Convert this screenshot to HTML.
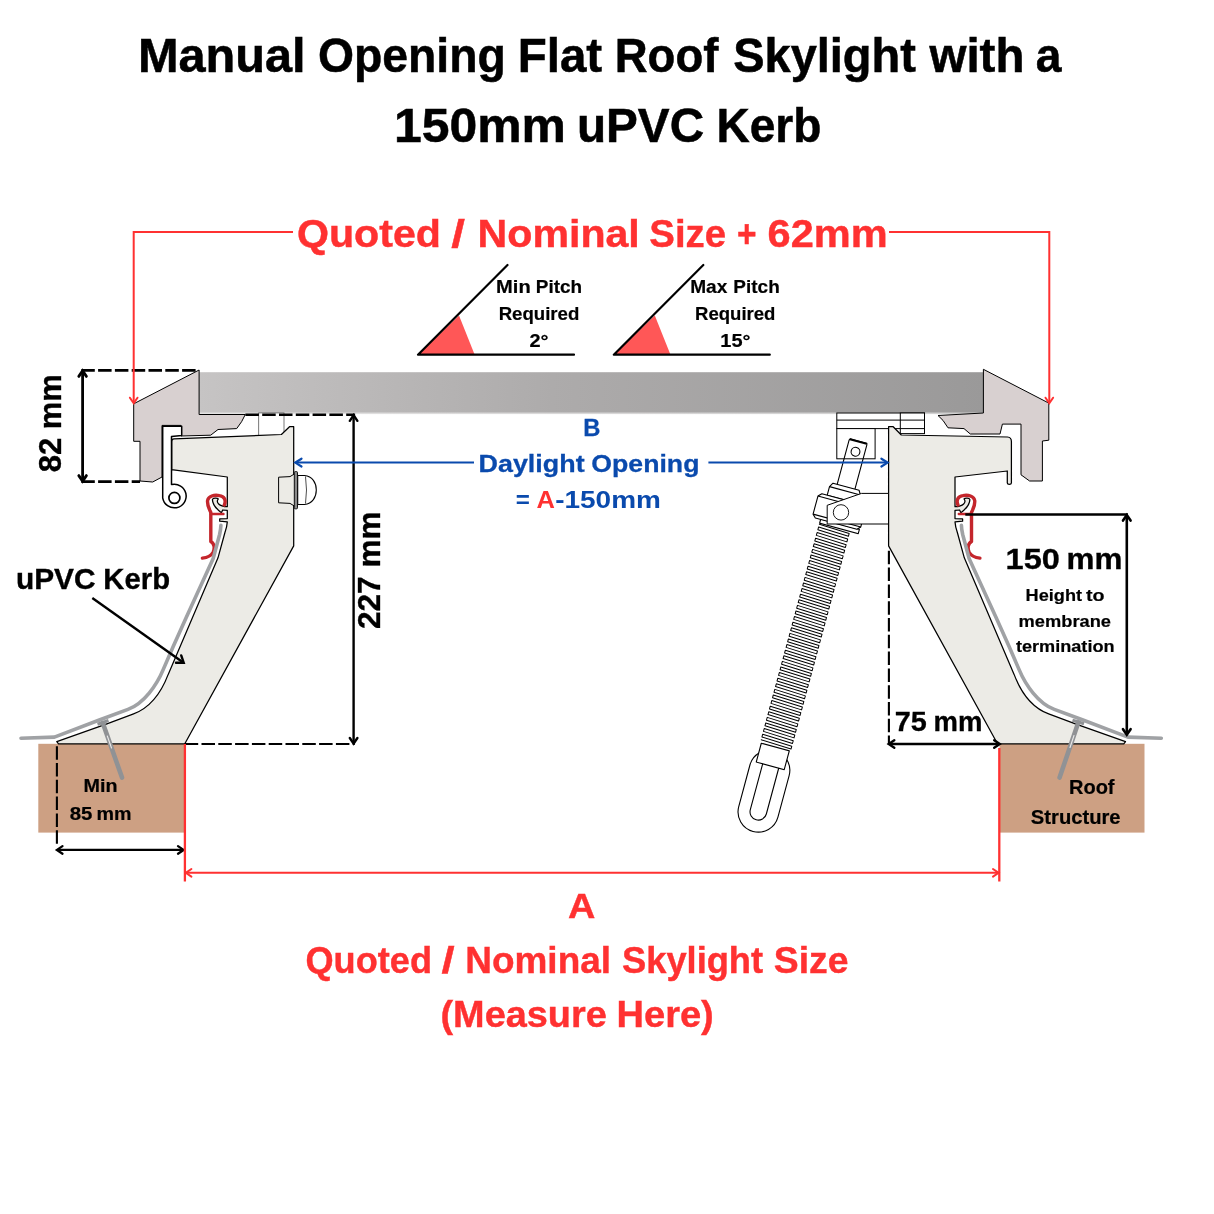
<!DOCTYPE html>
<html lang="en"><head><meta charset="utf-8"><title>Manual Opening Flat Roof Skylight with a 150mm uPVC Kerb</title>
<style>
html,body{margin:0;padding:0;background:#fff;width:1214px;height:1214px;overflow:hidden}
svg{display:block;will-change:transform;transform:translateZ(0)}
text{font-family:"Liberation Sans",Arial,Helvetica,sans-serif}
</style></head><body>
<svg width="1214" height="1214" viewBox="0 0 1214 1214">
<rect width="1214" height="1214" fill="#fff"/>
<defs><linearGradient id="gl" x1="0" x2="1" y1="0" y2="0"><stop offset="0" stop-color="#c6c4c4"/><stop offset="0.45" stop-color="#adabab"/><stop offset="1" stop-color="#9a9999"/></linearGradient><linearGradient id="gs" x1="0" x2="0" y1="0" y2="1"><stop offset="0" stop-color="#000" stop-opacity="0.0"/><stop offset="1" stop-color="#000" stop-opacity="0"/></linearGradient><linearGradient id="fd" x1="0" x2="0" y1="0" y2="1"><stop offset="0" stop-color="#fff"/><stop offset="1" stop-color="#000"/></linearGradient><mask id="fm" maskUnits="userSpaceOnUse" x="199" y="412" width="785" height="3"><rect x="199" y="412.1" width="785" height="2.6" fill="url(#fd)"/></mask></defs>
<rect x="199" y="372.2" width="785" height="40" fill="url(#gl)"/><rect x="199" y="412.1" width="785" height="2.6" fill="url(#gl)" mask="url(#fm)"/>
<rect x="38.3" y="743.8" width="146.5" height="88.8" fill="#cda083"/>
<rect x="999.5" y="743.8" width="145" height="88.8" fill="#cda083"/>
<g fill="#fff" stroke="#000" stroke-width="1"><rect x="836.8" y="413" width="87.7" height="15.6"/><rect x="900.3" y="413" width="24.2" height="20.6"/><path d="M836.8 420.1H924.5M900.3 428.6H924.5"/><rect x="836.8" y="428.6" width="38.3" height="30.2"/></g>
<rect x="258.7" y="412.9" width="25.3" height="23" fill="#fff" stroke="#555" stroke-width="0.8"/>
<path d="M199.1 370 L133.7 403.8 L133.7 441.3 L140 441.3 L140 481 L152.7 482 L162 477 L162 425.4 L181 425.4 L181 436 L210.7 435.2 L218 429.5 L236.7 428.6 L241.6 421.7 L245.3 414.5 L199.1 414.5 Z" fill="#d8d0d0" stroke="#000" stroke-width="1" stroke-linejoin="miter"/>
<path d="M983.4 369.3 L1048.8 403.1 L1048.8 440.2 L1042.4 441 L1042.4 481 L1029.6 481 L1021 474.8 L1021 424.1 L1002.4 424.1 L1000 434 L970.3 434 L964 428.6 L948 427.8 L943 420.4 L938 415.5 L983.4 413 Z" fill="#d8d0d0" stroke="#000" stroke-width="1"/>
<path d="M171.7 441.5 Q171.7 439 174 438.9 L281.4 434.5 L289.5 426.7 L293.7 426.7 L293.7 545.9 L184.8 743.8 L58.5 743.8 L56.8 741.6 L106.9 723.8 L133.6 713.9 C150.5 707.6 161.8 691.2 168.2 674.4 L218 557.8 L224.8 533 C226.2 529 227.1 525.5 227.3 521.9 L219.7 521.2 L219.7 518.9 L227.3 518.6 L227.3 510.4 L222.7 510 L221.4 512.7 C216.5 509 212.6 504.5 212.4 499.6 C213 498 217 497.6 218.3 498.9 C215.6 502.3 219 506.5 227.3 506.7 L227.3 477 L173.5 469.8 L171.7 469.8 Z" fill="#ecebe6" stroke="#000" stroke-width="1.25" stroke-linejoin="round"/>
<path d="M1011.4 441.5 Q1011.4 437.3 1007.5 437 L901.3 435 L893.2 426.7 L888.6 426.7 L888.6 545.9 L 997.50 743.8 L 1123.80 743.8 L 1125.50 741.6 L 1075.40 723.8 L 1048.70 713.9 C 1031.80 707.6 1020.50 691.2 1014.10 674.4 L 964.30 557.8 L 957.50 533 C 956.10 529 955.20 525.5 955.00 521.9 L 962.60 521.2 L 962.60 518.9 L 955.00 518.6 L 955.00 510.4 L 959.60 510 L 960.90 512.7 C 965.80 509 969.70 504.5 969.90 499.6 C 969.30 498 965.30 497.6 964.00 498.9 C 966.70 502.3 963.30 506.5 955.00 506.7 L 955.00 477L1007.3 471 L1007.3 483 Q1007.4 484.4 1009.3 484.4 Q1011.3 484.4 1011.4 483 Z" fill="#ecebe6" stroke="#000" stroke-width="1.25" stroke-linejoin="round"/>
<path d="M162.7 426.3 H181.7 V435.4 L171.5 436.5 V484.6 A11.8 11.8 0 1 1 162.7 497.9 Z" fill="#fff" stroke="#000" stroke-width="1.5" stroke-linejoin="round"/>
<circle cx="174.4" cy="497.9" r="5.5" fill="#fff" stroke="#000" stroke-width="1.7"/>
<path d="M294 474.2 L290 476.6 L278.6 477.2 V502.8 L290 503.4 L294 505.8" fill="#ecebe6" stroke="#000" stroke-width="1" stroke-linejoin="round"/>
<path d="M297.7 475.5 L304.5 475.5 C312.5 476.3 316.3 483 316.3 490 C316.3 497 312.5 503.7 304.5 504.5 L297.7 504.5 Z" fill="#fff" stroke="#000" stroke-width="1.1"/>
<path d="M305.5 476.5 Q307.5 490 305.5 503.5" stroke="#000" stroke-width="0.7" fill="none"/>
<rect x="294.3" y="471.6" width="3.2" height="37.2" rx="1" fill="#8a8a8a" stroke="#111" stroke-width="1"/>
<path d="M224.3 505 C226.5 500 224 496 219.5 495.6 C214 494.6 208.5 496 207.6 500.5 C207 505 209 508.5 210.8 512.5 L210.8 541.5 C214.5 543.5 215 548.5 213 552.5 C211 556 207 557.6 202.4 558.1" fill="none" stroke="#c4262c" stroke-width="3.4" stroke-linecap="round" stroke-linejoin="round"/><path d="M210.8 514 L223.5 514" fill="none" stroke="#c4262c" stroke-width="2.4" stroke-linecap="round"/>
<g transform="translate(1182.3 0) scale(-1 1)"><path d="M224.3 505 C226.5 500 224 496 219.5 495.6 C214 494.6 208.5 496 207.6 500.5 C207 505 209 508.5 210.8 512.5 L210.8 541.5 C214.5 543.5 215 548.5 213 552.5 C211 556 207 557.6 202.4 558.1" fill="none" stroke="#c4262c" stroke-width="3.4" stroke-linecap="round" stroke-linejoin="round"/><path d="M210.8 514 L223.5 514" fill="none" stroke="#c4262c" stroke-width="2.4" stroke-linecap="round"/></g>
<path d="M21 738.3 L54.4 737.1 L100 719.8 L128 709.4 C143.9 703.5 156.8 685.1 163.3 669.4 L173.1 646.7 L186 618 L213.2 558.5 L219.6 534.5 C220.3 531.5 220.8 528.5 220.9 525.3" fill="none" stroke="#a0a2a5" stroke-width="3.6" stroke-linecap="round" stroke-linejoin="round"/>
<path d="M 1161.30 738.3 L 1127.90 737.1 L 1082.30 719.8 L 1054.30 709.4 C 1038.40 703.5 1025.50 685.1 1019.00 669.4 L 1009.20 646.7 L 996.30 618 L 969.10 558.5 L 962.70 534.5 C 962.00 531.5 961.50 528.5 961.40 525.3" fill="none" stroke="#a0a2a5" stroke-width="3.6" stroke-linecap="round" stroke-linejoin="round"/>
<path d="M102.8 723 L122 777.6" stroke="#909295" stroke-width="4.6" stroke-linecap="round"/><path d="M97.5 724.3 L108.5 720.6" stroke="#909295" stroke-width="3.2"/><path d="M107.3 736 L111.5 748" stroke="#e9e9e9" stroke-width="1.1" stroke-linecap="round"/>
<path d="M1078.3 722.4 L1059.6 777.6" stroke="#909295" stroke-width="4.6" stroke-linecap="round"/><path d="M1072.5 720.3 L1084 723.8" stroke="#909295" stroke-width="3.2"/><path d="M1074 735.5 L1070 747.5" stroke="#e9e9e9" stroke-width="1.1" stroke-linecap="round"/>
<g transform="translate(855.5 451.7) rotate(15.1)" fill="#fff" stroke="#000" stroke-width="1.1" stroke-linejoin="round"><path d="M-20.3 330 A20.3 20.3 0 0 1 20.3 330 V373 A20.3 20.3 0 0 1 -20.3 373 Z"/><path d="M-8.3 322 V373 A8.3 8.3 0 0 0 8.3 373 V322 Z"/><rect x="-14.5" y="78" width="29" height="228" fill="#fff" stroke="none"/><path d="M-16 79.40 L15.2 80.60 L15.2 83.50 L-16 82.30 L-16 85.20 L15.2 86.40 L15.2 89.30 L-16 88.10 L-16 91.00 L15.2 92.20 L15.2 95.10 L-16 93.90 L-16 96.80 L15.2 98.00 L15.2 100.90 L-16 99.70 L-16 102.60 L15.2 103.80 L15.2 106.70 L-16 105.50 L-16 108.40 L15.2 109.60 L15.2 112.50 L-16 111.30 L-16 114.20 L15.2 115.40 L15.2 118.30 L-16 117.10 L-16 120.00 L15.2 121.20 L15.2 124.10 L-16 122.90 L-16 125.80 L15.2 127.00 L15.2 129.90 L-16 128.70 L-16 131.60 L15.2 132.80 L15.2 135.70 L-16 134.50 L-16 137.40 L15.2 138.60 L15.2 141.50 L-16 140.30 L-16 143.20 L15.2 144.40 L15.2 147.30 L-16 146.10 L-16 149.00 L15.2 150.20 L15.2 153.10 L-16 151.90 L-16 154.80 L15.2 156.00 L15.2 158.90 L-16 157.70 L-16 160.60 L15.2 161.80 L15.2 164.70 L-16 163.50 L-16 166.40 L15.2 167.60 L15.2 170.50 L-16 169.30 L-16 172.20 L15.2 173.40 L15.2 176.30 L-16 175.10 L-16 178.00 L15.2 179.20 L15.2 182.10 L-16 180.90 L-16 183.80 L15.2 185.00 L15.2 187.90 L-16 186.70 L-16 189.60 L15.2 190.80 L15.2 193.70 L-16 192.50 L-16 195.40 L15.2 196.60 L15.2 199.50 L-16 198.30 L-16 201.20 L15.2 202.40 L15.2 205.30 L-16 204.10 L-16 207.00 L15.2 208.20 L15.2 211.10 L-16 209.90 L-16 212.80 L15.2 214.00 L15.2 216.90 L-16 215.70 L-16 218.60 L15.2 219.80 L15.2 222.70 L-16 221.50 L-16 224.40 L15.2 225.60 L15.2 228.50 L-16 227.30 L-16 230.20 L15.2 231.40 L15.2 234.30 L-16 233.10 L-16 236.00 L15.2 237.20 L15.2 240.10 L-16 238.90 L-16 241.80 L15.2 243.00 L15.2 245.90 L-16 244.70 L-16 247.60 L15.2 248.80 L15.2 251.70 L-16 250.50 L-16 253.40 L15.2 254.60 L15.2 257.50 L-16 256.30 L-16 259.20 L15.2 260.40 L15.2 263.30 L-16 262.10 L-16 265.00 L15.2 266.20 L15.2 269.10 L-16 267.90 L-16 270.80 L15.2 272.00 L15.2 274.90 L-16 273.70 L-16 276.60 L15.2 277.80 L15.2 280.70 L-16 279.50 L-16 282.40 L15.2 283.60 L15.2 286.50 L-16 285.30 L-16 288.20 L15.2 289.40 L15.2 292.30 L-16 291.10 L-16 294.00 L15.2 295.20 L15.2 298.10 L-16 296.90 L-16 299.80 L15.2 301.00 L15.2 303.90 L-16 302.70 " fill="none" stroke-width="1.0" stroke-linejoin="round" stroke-linecap="round"/><rect x="-15" y="306" width="29" height="19.5"/><path d="M-9.2 -9.5 L-8.6 -11 L8.8 -11 L9.2 -9.5 V37 H-9.2 Z" fill="none"/><path d="M-8.6 -10.5 L8.8 -10.5" stroke-width="2" fill="none"/><circle cx="0" cy="0" r="4.4"/><path d="M-13.5 36.3 H13.5 L16 40.5 V49.5 H-16 V40.5 Z"/><path d="M-16 40.5 H16" fill="none"/><rect x="-16" y="74" width="40" height="4.4"/><path d="M-24.7 52.6 L-21.5 49.3 L21.5 49.3 L24.7 52.6 L24.7 71.3 L21.5 74.5 L-21.5 74.5 L-24.7 71.3 Z"/><path d="M-24.7 52.6 H24.7 M-24.7 71.3 H24.7" fill="none"/></g>
<path d="M888.5 493.4 H861.5 L827.2 505.3 V524 H888.5 Z" fill="#fff" stroke="#000" stroke-width="1" stroke-linejoin="round"/>
<circle cx="841" cy="512.4" r="7.7" fill="#fff" stroke="#000" stroke-width="0.9"/>
<path d="M418 354.7 L459 315.5 L474.7 354.7 Z" fill="#ff5757"/><path d="M574 354.7 H418 L507.5 265" fill="none" stroke="#000" stroke-width="2.2" stroke-linecap="round" stroke-linejoin="round"/>
<path d="M613.8 354.7 L654.8 315.5 L670.5 354.7 Z" fill="#ff5757"/><path d="M769.8 354.7 H613.8 L703.3 265" fill="none" stroke="#000" stroke-width="2.2" stroke-linecap="round" stroke-linejoin="round"/>
<path d="M81.3 370.4 H198.5" stroke="#000" fill="none" stroke-width="2.8" stroke-dasharray="13.5 3.3"/>
<path d="M81.3 481.6 H140" stroke="#000" fill="none" stroke-width="2.8" stroke-dasharray="13.5 3.3"/>
<path d="M82.6 372 V480" stroke="#000" fill="none" stroke-width="2.8"/>
<path d="M86.4 376.4 L82.6 370.8 L78.8 376.4" fill="none" stroke="#000" stroke-width="2.8" stroke-linecap="round" stroke-linejoin="miter"/>
<path d="M78.8 475.6 L82.6 481.2 L86.4 475.6" fill="none" stroke="#000" stroke-width="2.8" stroke-linecap="round" stroke-linejoin="miter"/>
<path d="M245.4 414.8 H355.1" stroke="#000" fill="none" stroke-width="2.4" stroke-dasharray="13.5 3.3"/>
<path d="M184.7 744 H354.8" stroke="#000" fill="none" stroke-width="2.2" stroke-dasharray="13.5 3.3"/>
<path d="M353.6 416.5 V742" stroke="#000" fill="none" stroke-width="2.4"/>
<path d="M357.4 420.8 L353.6 415.2 L349.8 420.8" fill="none" stroke="#000" stroke-width="2.4" stroke-linecap="round" stroke-linejoin="miter"/>
<path d="M349.8 738.0 L353.6 743.6 L357.4 738.0" fill="none" stroke="#000" stroke-width="2.4" stroke-linecap="round" stroke-linejoin="miter"/>
<path d="M56.9 746.2 V844" stroke="#000" fill="none" stroke-width="2.1" stroke-dasharray="13.5 3.3"/>
<path d="M58 849.9 H182.5" stroke="#000" fill="none" stroke-width="2.3"/>
<path d="M62.5 846.1 L56.9 849.9 L62.5 853.7" fill="none" stroke="#000" stroke-width="2.3" stroke-linecap="round" stroke-linejoin="miter"/>
<path d="M178.0 853.7 L183.6 849.9 L178.0 846.1" fill="none" stroke="#000" stroke-width="2.3" stroke-linecap="round" stroke-linejoin="miter"/>
<path d="M888.9 550.8 V745" stroke="#000" fill="none" stroke-width="2.1" stroke-dasharray="13.5 3.3"/>
<path d="M890.5 744 H998" stroke="#000" fill="none" stroke-width="2.4"/>
<path d="M894.3 740.2 L888.7 744.0 L894.3 747.8" fill="none" stroke="#000" stroke-width="2.4" stroke-linecap="round" stroke-linejoin="miter"/>
<path d="M994.2 747.8 L999.8 744.0 L994.2 740.2" fill="none" stroke="#000" stroke-width="2.4" stroke-linecap="round" stroke-linejoin="miter"/>
<path d="M965.3 514.5 H1128" stroke="#000" fill="none" stroke-width="2.6"/>
<path d="M1126.8 516.5 V733" stroke="#000" fill="none" stroke-width="2.6"/>
<path d="M1130.6 520.6 L1126.8 515.0 L1123.0 520.6" fill="none" stroke="#000" stroke-width="2.6" stroke-linecap="round" stroke-linejoin="miter"/>
<path d="M1123.0 729.2 L1126.8 734.8 L1130.6 729.2" fill="none" stroke="#000" stroke-width="2.6" stroke-linecap="round" stroke-linejoin="miter"/>
<path d="M92.3 598 L182.5 661.9" stroke="#000" fill="none" stroke-width="2.4"/>
<path d="M176.0 662.7 L183.7 662.7 L181.2 655.4" fill="none" stroke="#000" stroke-width="2.4" stroke-linecap="round" stroke-linejoin="miter"/>
<path d="M293 232 H133.7 V402" fill="none" stroke="#ff3131" stroke-width="2.0"/>
<path d="M129.9 397.7 L133.7 403.3 L137.5 397.7" fill="none" stroke="#ff3131" stroke-width="2.0" stroke-linecap="round" stroke-linejoin="miter"/>
<path d="M889 232 H1049.3 V402" fill="none" stroke="#ff3131" stroke-width="2.0"/>
<path d="M1045.5 397.7 L1049.3 403.3 L1053.1 397.7" fill="none" stroke="#ff3131" stroke-width="2.0" stroke-linecap="round" stroke-linejoin="miter"/>
<path d="M184.9 744 V881.5" stroke="#ff3131" stroke-width="2.3" fill="none"/>
<path d="M999.3 748 V881.5" stroke="#ff3131" stroke-width="2.3" fill="none"/>
<path d="M186.5 872.8 H998" stroke="#ff3131" stroke-width="2.0" fill="none"/>
<path d="M191.4 869.0 L185.8 872.8 L191.4 876.6" fill="none" stroke="#ff3131" stroke-width="2.0" stroke-linecap="round" stroke-linejoin="miter"/>
<path d="M993.0 876.6 L998.6 872.8 L993.0 869.0" fill="none" stroke="#ff3131" stroke-width="2.0" stroke-linecap="round" stroke-linejoin="miter"/>
<path d="M296.5 462.6 H474" stroke="#0a4aad" stroke-width="2" fill="none"/>
<path d="M708.4 462.6 H887" stroke="#0a4aad" stroke-width="2" fill="none"/>
<path d="M301.5 458.7 L295.3 462.6 L301.5 466.5" fill="none" stroke="#0a4aad" stroke-width="2.2" stroke-linecap="round" stroke-linejoin="miter"/>
<path d="M881.4 466.5 L887.6 462.6 L881.4 458.7" fill="none" stroke="#0a4aad" stroke-width="2.2" stroke-linecap="round" stroke-linejoin="miter"/>
<text y="72.0" font-size="48.5" fill="#000" stroke="#000" stroke-width="0.53" font-weight="bold"><tspan x="137.94" textLength="167.67" lengthAdjust="spacingAndGlyphs">Manual</tspan> <tspan x="317.95" textLength="187.88" lengthAdjust="spacingAndGlyphs">Opening</tspan> <tspan x="517.71" textLength="84.5" lengthAdjust="spacingAndGlyphs">Flat</tspan> <tspan x="614.74" textLength="103.62" lengthAdjust="spacingAndGlyphs">Roof</tspan> <tspan x="733.19" textLength="182.7" lengthAdjust="spacingAndGlyphs">Skylight</tspan> <tspan x="929.44" textLength="94.99" lengthAdjust="spacingAndGlyphs">with</tspan> <tspan x="1035.71" textLength="25.68" lengthAdjust="spacingAndGlyphs">a</tspan></text>
<text y="141.5" font-size="48.5" fill="#000" stroke="#000" stroke-width="0.53" font-weight="bold"><tspan x="393.91" textLength="171.93" lengthAdjust="spacingAndGlyphs">150mm</tspan> <tspan x="576.94" textLength="127.15" lengthAdjust="spacingAndGlyphs">uPVC</tspan> <tspan x="716.41" textLength="104.86" lengthAdjust="spacingAndGlyphs">Kerb</tspan></text>
<text y="247.1" font-size="38" fill="#ff3131" stroke="#ff3131" stroke-width="0.42" font-weight="bold"><tspan x="296.95" textLength="144.0" lengthAdjust="spacingAndGlyphs">Quoted</tspan> <tspan x="451.38" textLength="13.72" lengthAdjust="spacingAndGlyphs">/</tspan> <tspan x="477.63" textLength="162.14" lengthAdjust="spacingAndGlyphs">Nominal</tspan> <tspan x="649.35" textLength="76.73" lengthAdjust="spacingAndGlyphs">Size</tspan> <tspan x="736.92" textLength="19.53" lengthAdjust="spacingAndGlyphs">+</tspan> <tspan x="767.64" textLength="120.18" lengthAdjust="spacingAndGlyphs">62mm</tspan></text>
<text y="292.6" font-size="18.6" fill="#000" stroke="#000" stroke-width="0.20" font-weight="bold"><tspan x="496.09" textLength="34.65" lengthAdjust="spacingAndGlyphs">Min</tspan> <tspan x="535.77" textLength="46.26" lengthAdjust="spacingAndGlyphs">Pitch</tspan></text>
<text x="498.69" y="319.9" font-size="18.6" fill="#000" stroke="#000" stroke-width="0.20" font-weight="bold" textLength="80.6" lengthAdjust="spacingAndGlyphs">Required</text>
<text x="529.5" y="347.4" font-size="18.6" fill="#000" stroke="#000" stroke-width="0.20" font-weight="bold" textLength="19.12" lengthAdjust="spacingAndGlyphs">2°</text>
<text y="292.6" font-size="18.6" fill="#000" stroke="#000" stroke-width="0.20" font-weight="bold"><tspan x="690.16" textLength="37.14" lengthAdjust="spacingAndGlyphs">Max</tspan> <tspan x="733.37" textLength="46.37" lengthAdjust="spacingAndGlyphs">Pitch</tspan></text>
<text x="695.1" y="319.9" font-size="18.6" fill="#000" stroke="#000" stroke-width="0.20" font-weight="bold" textLength="80.29" lengthAdjust="spacingAndGlyphs">Required</text>
<text x="720.3" y="347.4" font-size="18.6" fill="#000" stroke="#000" stroke-width="0.20" font-weight="bold" textLength="30.14" lengthAdjust="spacingAndGlyphs">15°</text>
<text transform="translate(60.5 471.3) rotate(-90)" x="-0.93" y="0" font-size="31.6" stroke="#000" stroke-width="0.35" font-weight="bold" textLength="98.04" lengthAdjust="spacingAndGlyphs">82 mm</text>
<text transform="translate(379.8 628) rotate(-90)" x="-1.11" y="0" font-size="31.6" stroke="#000" stroke-width="0.35" font-weight="bold" textLength="117.69" lengthAdjust="spacingAndGlyphs">227 mm</text>
<text y="589.3" font-size="29.8" fill="#000" stroke="#000" stroke-width="0.33" font-weight="bold"><tspan x="15.91" textLength="79.6" lengthAdjust="spacingAndGlyphs">uPVC</tspan> <tspan x="103.3" textLength="66.73" lengthAdjust="spacingAndGlyphs">Kerb</tspan></text>
<text x="583.15" y="436.1" font-size="24.6" fill="#0a4aad" stroke="#0a4aad" stroke-width="0.27" font-weight="bold" textLength="17.17" lengthAdjust="spacingAndGlyphs">B</text>
<text y="471.6" font-size="24.6" fill="#0a4aad" stroke="#0a4aad" stroke-width="0.27" font-weight="bold"><tspan x="478.55" textLength="106.05" lengthAdjust="spacingAndGlyphs">Daylight</tspan> <tspan x="591.33" textLength="108.11" lengthAdjust="spacingAndGlyphs">Opening</tspan></text>
<text y="507.8" font-size="24.6" font-weight="bold" fill="#0a4aad"><tspan x="515.83" textLength="14.11" lengthAdjust="spacingAndGlyphs">=</tspan> <tspan x="536.46" fill="#ff3131" textLength="18.43" lengthAdjust="spacingAndGlyphs">A</tspan><tspan x="555.18" textLength="105.69" lengthAdjust="spacingAndGlyphs">-150mm</tspan></text>
<text y="569.3" font-size="30.2" fill="#000" stroke="#000" stroke-width="0.33" font-weight="bold"><tspan x="1005.55" textLength="54.27" lengthAdjust="spacingAndGlyphs">150</tspan> <tspan x="1066.46" textLength="55.87" lengthAdjust="spacingAndGlyphs">mm</tspan></text>
<text y="600.5" font-size="17.1" fill="#000" stroke="#000" stroke-width="0.19" font-weight="bold"><tspan x="1025.62" textLength="56.48" lengthAdjust="spacingAndGlyphs">Height</tspan> <tspan x="1086.05" textLength="18.56" lengthAdjust="spacingAndGlyphs">to</tspan></text>
<text x="1018.61" y="626.6" font-size="17.1" fill="#000" stroke="#000" stroke-width="0.19" font-weight="bold" textLength="92.37" lengthAdjust="spacingAndGlyphs">membrane</text>
<text x="1015.92" y="652.4" font-size="17.1" fill="#000" stroke="#000" stroke-width="0.19" font-weight="bold" textLength="98.67" lengthAdjust="spacingAndGlyphs">termination</text>
<text y="730.9" font-size="27.6" fill="#000" stroke="#000" stroke-width="0.30" font-weight="bold"><tspan x="894.75" textLength="32.04" lengthAdjust="spacingAndGlyphs">75</tspan> <tspan x="933.61" textLength="48.89" lengthAdjust="spacingAndGlyphs">mm</tspan></text>
<text x="83.52" y="792.4" font-size="18.2" fill="#000" stroke="#000" stroke-width="0.20" font-weight="bold" textLength="34.0" lengthAdjust="spacingAndGlyphs">Min</text>
<text y="819.6" font-size="18.2" fill="#000" stroke="#000" stroke-width="0.20" font-weight="bold"><tspan x="69.79" textLength="22.67" lengthAdjust="spacingAndGlyphs">85</tspan> <tspan x="96.52" textLength="35.03" lengthAdjust="spacingAndGlyphs">mm</tspan></text>
<text x="1069.0" y="794.3" font-size="19.5" fill="#000" stroke="#000" stroke-width="0.21" font-weight="bold" textLength="45.54" lengthAdjust="spacingAndGlyphs">Roof</text>
<text x="1030.89" y="823.8" font-size="19.5" fill="#000" stroke="#000" stroke-width="0.21" font-weight="bold" textLength="89.72" lengthAdjust="spacingAndGlyphs">Structure</text>
<text x="567.95" y="918.3" font-size="35.8" fill="#ff3131" stroke="#ff3131" stroke-width="0.39" font-weight="bold" textLength="27.38" lengthAdjust="spacingAndGlyphs">A</text>
<text y="972.6" font-size="36.3" fill="#ff3131" stroke="#ff3131" stroke-width="0.40" font-weight="bold"><tspan x="305.45" textLength="126.58" lengthAdjust="spacingAndGlyphs">Quoted</tspan> <tspan x="441.49" textLength="13.11" lengthAdjust="spacingAndGlyphs">/</tspan> <tspan x="465.2" textLength="145.89" lengthAdjust="spacingAndGlyphs">Nominal</tspan> <tspan x="622.01" textLength="141.12" lengthAdjust="spacingAndGlyphs">Skylight</tspan> <tspan x="773.78" textLength="74.66" lengthAdjust="spacingAndGlyphs">Size</tspan></text>
<text y="1026.6" font-size="36.3" fill="#ff3131" stroke="#ff3131" stroke-width="0.40" font-weight="bold"><tspan x="440.51" textLength="166.25" lengthAdjust="spacingAndGlyphs">(Measure</tspan> <tspan x="616.53" textLength="97.25" lengthAdjust="spacingAndGlyphs">Here)</tspan></text>
</svg>
</body></html>
